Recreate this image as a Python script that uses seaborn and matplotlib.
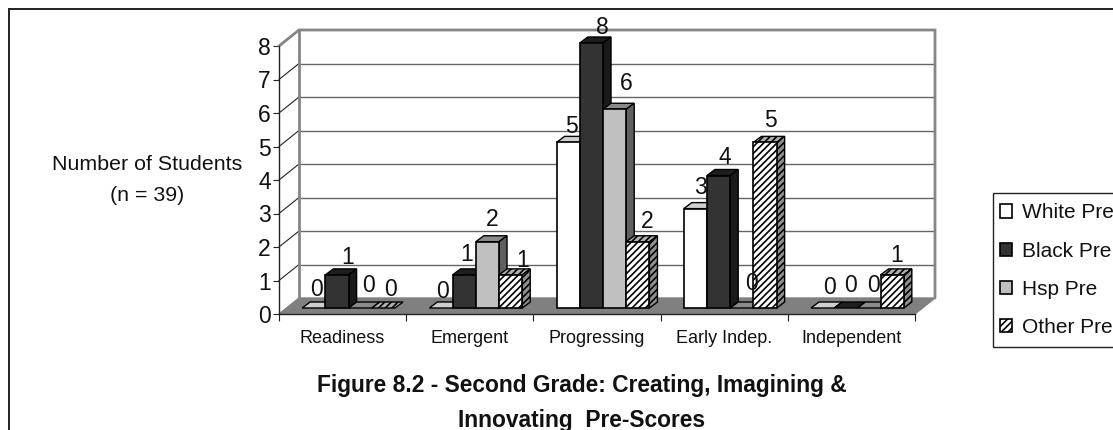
import matplotlib
matplotlib.use("Agg")
import matplotlib.pyplot as plt
import pandas as pd
import seaborn as sns
from matplotlib.lines import Line2D
from matplotlib.patches import Patch, Polygon, Rectangle

categories = ["Readiness", "Emergent", "Progressing", "Early Indep.", "Independent"]
white_pre = [0, 0, 5, 3, 0]
black_pre = [1, 1, 8, 4, 0]
hsp_pre = [0, 2, 6, 0, 0]
other_pre = [0, 1, 2, 5, 1]
series_names = ["White Pre", "Black Pre", "Hsp Pre", "Other Pre"]
y_ticks = [0, 1, 2, 3, 4, 5, 6, 7, 8]

# hand-placed data-label nudges in pixels (per series, per category)
label_dx = [[3, 2, 3, 5, 7], [11, 2, 11, 6, 5], [8, 5, 12, 10, 4], [7, 12, 9, 5, 4]]
label_dy = [[19, 16, 16, 21, 21], [17, 20, 16, 18, 23], [22, 22, 26, 25, 23], [19, 14, 20, 22, 19]]

W, H = 1113, 430
sns.set_theme(style="white")
plt.rcParams["font.family"] = ["Liberation Sans", "DejaVu Sans"]
plt.rcParams["hatch.linewidth"] = 1.2
fig = plt.figure(figsize=(W / 100, H / 100), dpi=100, facecolor="white")


def px_rect(left, right, top, bottom):
    return [left / W, 1 - bottom / H, (right - left) / W, (bottom - top) / H]


def fx(x):
    return x / W


def fy(y):
    return 1 - y / H


TXT = "#111111"
GRID = "#666666"
WALL = "#858585"

# ---------- frame axis: scale, back wall, floor ----------
ax = fig.add_axes(px_rect(279, 915, 46, 314))
ax.patch.set_visible(False)
ax.set_xlim(0, 5)
ax.set_ylim(0, 8)
dx = 20 / (636 / 5)
dy = 16 / (268 / 8)
ax.add_patch(Polygon([(0, 0), (5, 0), (5 + dx, dy), (dx, dy)], closed=True,
                     fc="#808080", ec="#808080", lw=1, clip_on=False, zorder=1))
for v in y_ticks[1:-1]:
    ax.plot([dx, 5 + dx], [v + dy, v + dy], color=GRID, lw=1, clip_on=False, zorder=1)
    ax.plot([0, dx], [v, v + dy], color="#222222", lw=0.8, clip_on=False, zorder=1)
ax.plot([0, dx, 5 + dx, 5 + dx], [8, 8 + dy, 8 + dy, dy], color=WALL, lw=2,
        clip_on=False, zorder=1, solid_joinstyle="miter")
ax.plot([dx, dx], [dy, 8 + dy], color=WALL, lw=2, clip_on=False, zorder=1)
for s in ("top", "right"):
    ax.spines[s].set_visible(False)
for s in ("left", "bottom"):
    ax.spines[s].set_color("#222222")
    ax.spines[s].set_linewidth(1)
ax.set_yticks(y_ticks)
ax.set_yticklabels([str(v) for v in y_ticks], fontsize=16.5, color=TXT)
ax.tick_params(axis="y", length=4.5, width=0.8, color="#222222", pad=1.5, left=True)
ax.set_xticks(range(6))
ax.set_xticklabels([""] * 6)
ax.tick_params(axis="x", which="major", length=5, width=0.8, color="#222222", bottom=True)
ax.set_xticks([i + 0.5 for i in range(5)], minor=True)
ax.set_xticklabels(categories, minor=True, fontsize=13, color=TXT)
ax.tick_params(axis="x", which="minor", length=0, pad=11.5)

# ---------- bar plane: seaborn bars, sitting on the floor ----------
bx = fig.add_axes(px_rect(285, 921, 43, 308))
bx.patch.set_visible(False)
df = pd.DataFrame({
    "category": categories * 4,
    "series": [n for n in series_names for _ in categories],
    "value": white_pre + black_pre + hsp_pre + other_pre,
})
fronts = ["#ffffff", "#333333", "#c0c0c0", "#ffffff"]
sns.barplot(data=df, x="category", y="value", hue="series", order=categories,
            hue_order=series_names, palette=fronts, width=0.73, gap=0, saturation=1,
            edgecolor="black", linewidth=1.2, legend=False, errorbar=None, ax=bx)
bx.set_xlim(-0.5, 4.5)
bx.set_ylim(0, 8)
bx.axis("off")

tops = ["#cfcfcf", "#1e1e1e", "#8a8a8a", "#b0b0b0"]
sides = ["#808080", "#1a1a1a", "#606060", "#909090"]
ddx = 8 / (636 / 5)
ddy = 6 / (265 / 8)
hatch = "/////"

boxes = []
for s, cont in enumerate(bx.containers):
    for c, rect in enumerate(cont.patches):
        boxes.append((rect.get_x(), s, c, rect))
for order, (_, s, c, rect) in enumerate(sorted(boxes, key=lambda b: b[0])):
    x0, w, h = rect.get_x(), rect.get_width(), rect.get_height()
    z = 5 + order
    ht = hatch if s == 3 else None
    bx.add_patch(Polygon([(x0, h), (x0 + w, h), (x0 + w + ddx, h + ddy), (x0 + ddx, h + ddy)],
                         closed=True, fc=tops[s], ec="black", lw=1, hatch=ht,
                         clip_on=False, zorder=z))
    if h > 0:
        bx.add_patch(Polygon([(x0 + w, 0), (x0 + w + ddx, ddy), (x0 + w + ddx, h + ddy), (x0 + w, h)],
                             closed=True, fc=sides[s], ec="black", lw=1, hatch=ht,
                             clip_on=False, zorder=z))
        rect.set_zorder(z + 0.5)
        rect.set_clip_on(False)
        if s == 3:
            rect.set_hatch(hatch)
    else:
        rect.set_visible(False)
    bx.annotate(str(int(h)), xy=(x0 + w / 2, h), xytext=(label_dx[s][c], label_dy[s][c]),
                textcoords="offset pixels", ha="center", va="center", fontsize=16.5,
                color=TXT, zorder=50, annotation_clip=False)

# ---------- legend, clipped by the right edge as in the source ----------
fig.add_artist(Rectangle((fx(993), fy(347)), fx(140), 154 / H, transform=fig.transFigure,
                         fc="white", ec="#222222", lw=1, zorder=3))
handles = [Patch(fc=f, ec="black", lw=1.2, hatch=hatch if i == 3 else None)
           for i, f in enumerate(fronts)]
lg = fig.legend(handles, series_names, loc="upper left",
                bbox_to_anchor=(fx(987), fy(345), fx(150), 154 / H), mode="expand",
                bbox_transform=fig.transFigure, borderaxespad=0, fontsize=15,
                frameon=False, handlelength=0.62, handleheight=0.62, handletextpad=0.45,
                labelspacing=0.92, borderpad=0.6, labelcolor=TXT)
lg.set_zorder(4)

# ---------- texts and outer border ----------
fig.text(fx(147), fy(165), "Number of Students", ha="center", va="center", fontsize=15.4, color=TXT)
fig.text(fx(147), fy(196), "(n = 39)", ha="center", va="center", fontsize=15.4, color=TXT)
fig.text(fx(582), fy(403), "Figure 8.2 - Second Grade: Creating, Imagining &\nInnovating  Pre-Scores",
         ha="center", va="center", fontsize=16.4, fontweight="bold", color=TXT,
         linespacing=1.62, multialignment="center")
fig.add_artist(Line2D([fx(8.5), fx(8.5), 1], [0, fy(9), fy(9)], transform=fig.transFigure,
                      color="#222222", lw=1.4, solid_joinstyle="miter"))

fig.savefig("out.png", dpi=100, facecolor="white")
